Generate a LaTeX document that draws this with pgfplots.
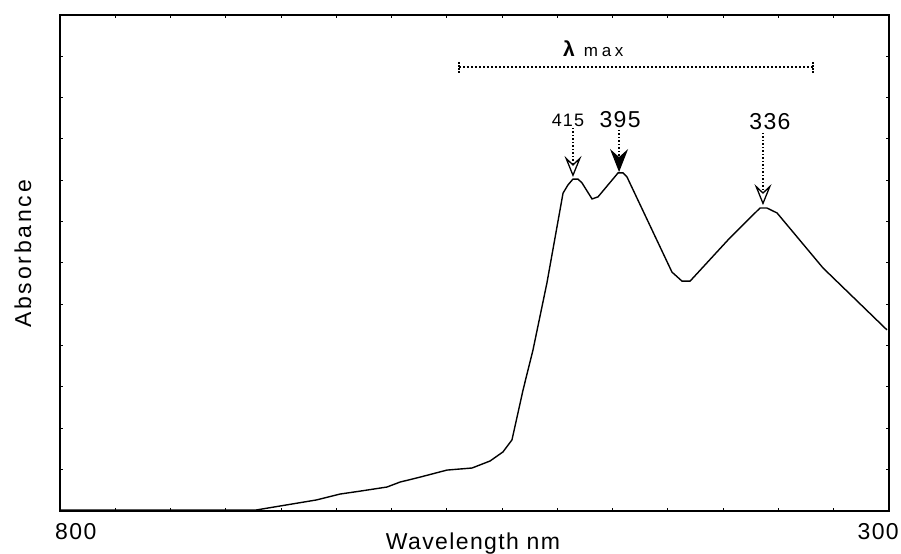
\documentclass[border=0pt]{standalone}
\usepackage{fontspec}
\setmainfont{Liberation Sans}
\usepackage{pgfplots}
\pgfplotsset{compat=1.18}
\usetikzlibrary{arrows.meta}
\newfontfamily\spaced[LetterSpace=6]{Liberation Sans}
\newfontfamily\wide[LetterSpace=12]{Liberation Sans}
\newfontfamily\wider[LetterSpace=22]{Liberation Sans}
\begin{document}
\begin{tikzpicture}
\begin{axis}[
  scale only axis,
  width=829bp, height=496bp,
  x dir=reverse,
  xmin=300, xmax=800, ymin=0, ymax=12,
  axis line style={line width=1.5bp},
  xtick={300,333.33,366.67,400,433.33,466.67,500,533.33,566.67,600,633.33,666.67,700,733.33,766.67,800},
  ytick={0,1,2,3,4,5,6,7,8,9,10,11,12},
  xticklabels={}, yticklabels={},
  tick align=inside,
  major tick length=3bp,
  tick style={line width=1bp, black},
  clip=false,
]
\addplot[black, line width=1.4bp] coordinates {
(800,0.02) (682.4,0.02) (645.0,0.27) (631.1,0.41) (619.1,0.48) (602.8,0.58)
(594.9,0.70) (582.8,0.82) (566.6,0.99) (551.5,1.04) (540.6,1.21) (532.8,1.43)
(527.4,1.72) (520.7,2.93) (514.7,3.90) (506.3,5.52) (496.6,7.69) (493.6,7.89)
(490.6,8.03) (487.6,8.03) (485.2,7.94) (479.1,7.55) (475.5,7.60) (463.4,8.18)
(460.4,8.18) (458.0,8.08) (430.9,5.78) (424.8,5.56) (420.0,5.56) (395.9,6.61)
(377.8,7.33) (373.6,7.33) (367.5,7.21) (339.8,5.88) (301.2,4.38)
};
% tick labels and axis labels
\node[anchor=base west, font=\spaced\fontsize{23bp}{23bp}\selectfont, inner sep=0pt] at (axis cs:803.0,-0.70) {800};
\node[anchor=base east, font=\spaced\fontsize{23bp}{23bp}\selectfont, inner sep=0pt] at (axis cs:294.0,-0.70) {300};
\node[anchor=base, font=\spaced\fontsize{23bp}{23bp}\selectfont, inner sep=0pt] at (axis cs:550.9,-0.94) {Wavelength nm};
\node[rotate=90, anchor=center, font=\wide\fontsize{23bp}{23bp}\selectfont, inner sep=0pt] at (axis cs:822.3,6.22) {Absorbance};
% lambda max
\node[anchor=base west, inner sep=0pt] at (axis cs:496.6,11.0) {{\bfseries\fontsize{21bp}{21bp}\selectfont λ}\hspace{9bp}{\wider\fontsize{17bp}{17bp}\selectfont max}};
\draw[line width=1.2bp, dash pattern=on 1.5bp off 2.5bp] (axis cs:559.3,10.74) -- (axis cs:345.8,10.74);
\draw[line width=1.2bp, dash pattern=on 1.5bp off 1.5bp] (axis cs:559.3,10.60) -- (axis cs:559.3,10.88);
\draw[line width=1.2bp, dash pattern=on 1.5bp off 1.5bp] (axis cs:345.8,10.60) -- (axis cs:345.8,10.88);
% peak labels
\node[font=\spaced\fontsize{18bp}{18bp}\selectfont, inner sep=0pt] at (axis cs:493.6,9.46) {415};
\node[font=\spaced\fontsize{23bp}{23bp}\selectfont, inner sep=0pt] at (axis cs:462.2,9.46) {395};
\node[font=\spaced\fontsize{23bp}{23bp}\selectfont, inner sep=0pt] at (axis cs:371.8,9.41) {336};
% arrows
\draw[line width=1.2bp, dash pattern=on 1.5bp off 2bp, -{Stealth[open, fill=white, length=21bp, width=17bp, inset=8bp, line width=1.3bp]}] (axis cs:490.6,9.27) -- (axis cs:490.6,8.08);
\draw[line width=1.2bp, dash pattern=on 1.5bp off 2bp, -{Stealth[fill=black, length=23bp, width=18bp, inset=8bp]}] (axis cs:462.8,9.22) -- (axis cs:462.8,8.20);
\draw[line width=1.2bp, dash pattern=on 1.5bp off 2bp, -{Stealth[open, fill=white, length=21bp, width=17bp, inset=8bp, line width=1.3bp]}] (axis cs:376.0,9.15) -- (axis cs:376.0,7.40);
\end{axis}
\pgfresetboundingbox
\path[use as bounding box] ([shift={(-60bp,-43bp)}]current axis.south west) rectangle ++(901bp,554bp);
\end{tikzpicture}
\end{document}
